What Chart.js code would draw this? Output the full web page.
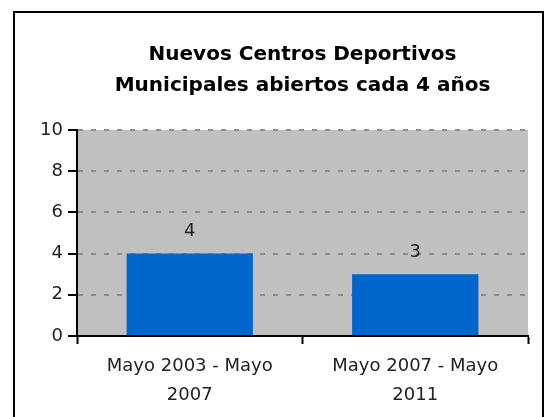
<!DOCTYPE html>
<html>
<head>
<meta charset="utf-8">
<script src="https://cdn.jsdelivr.net/npm/chart.js@4"></script>
<style>
  html, body { margin: 0; padding: 0; background: #fff; }
  #wrap { width: 547px; height: 417px; }
</style>
</head>
<body>
<div id="wrap"><canvas id="bar-chart" width="547" height="417"></canvas></div>
<script>
const titleLines = ["Nuevos Centros Deportivos", "Municipales abiertos cada 4 años"];
const periods = [["Mayo 2003 - Mayo", "2007"], ["Mayo 2007 - Mayo", "2011"]];
const centros = [4, 3];
const yTicks = [0, 2, 4, 6, 8, 10];

Chart.defaults.font.family = "DejaVu Sans";
Chart.defaults.color = "#222";

// gray plot background + outer frame
const frame = {
  id: 'frame',
  beforeDraw(chart) {
    const {ctx, chartArea: a} = chart;
    ctx.save();
    ctx.fillStyle = "#c0c0c0";
    ctx.fillRect(a.left, a.top, a.right - a.left, a.bottom - a.top);
    ctx.restore();
  },
  afterDraw(chart) {
    const ctx = chart.ctx;
    ctx.save();
    ctx.strokeStyle = "#000";
    ctx.lineWidth = 2;
    ctx.strokeRect(14, 12, 529, 440);
    ctx.restore();
  }
};

// value labels above bars
const valueLabels = {
  id: 'valueLabels',
  afterDatasetsDraw(chart) {
    const ctx = chart.ctx;
    const meta = chart.getDatasetMeta(0);
    ctx.save();
    ctx.font = "18px 'DejaVu Sans'";
    ctx.fillStyle = "#222";
    ctx.textAlign = "center";
    ctx.textBaseline = "middle";
    meta.data.forEach((bar, i) => {
      ctx.fillText(String(centros[i]), bar.x, bar.y - 22);
    });
    ctx.restore();
  }
};

new Chart(document.getElementById("bar-chart"), {
  type: 'bar',
  data: {
    labels: periods,
    datasets: [{
      data: centros,
      backgroundColor: "#0066cc",
      borderWidth: 0,
      barPercentage: 0.56,
      categoryPercentage: 1
    }]
  },
  options: {
    responsive: false,
    animation: false,
    layout: { padding: { left: 0, right: 19, top: 0, bottom: 0 } },
    scales: {
      x: {
        afterFit: scale => { scale.height = 81; },
        ticks: {
          maxRotation: 0,
          padding: 8,
          color: "#222",
          font: { size: 18, lineHeight: 1.61 }
        },
        grid: {
          drawOnChartArea: false,
          tickLength: 8,
          tickColor: "#000",
          tickWidth: 2
        },
        border: { color: "#000", width: 2 }
      },
      y: {
        min: 0,
        max: 10,
        afterFit: scale => { scale.width = 77; },
        afterBuildTicks: scale => { scale.ticks = yTicks.map(v => ({ value: v })); },
        ticks: {
          padding: 5,
          color: "#222",
          font: { size: 18 }
        },
        grid: {
          color: "#8c8c8c",
          lineWidth: 2,
          tickLength: 9,
          tickColor: "#000",
          tickWidth: 2,
          tickBorderDash: []
        },
        border: { color: "#000", width: 2, dash: [5, 8] }
      }
    },
    plugins: {
      legend: { display: false },
      tooltip: { enabled: false },
      title: {
        display: true,
        fullSize: false,
        text: titleLines,
        color: "#000",
        font: { size: 20, weight: 'bold', lineHeight: 1.55 },
        padding: { top: 39.5, bottom: 28.5 }
      }
    }
  },
  plugins: [frame, valueLabels]
});
</script>
</body>
</html>
